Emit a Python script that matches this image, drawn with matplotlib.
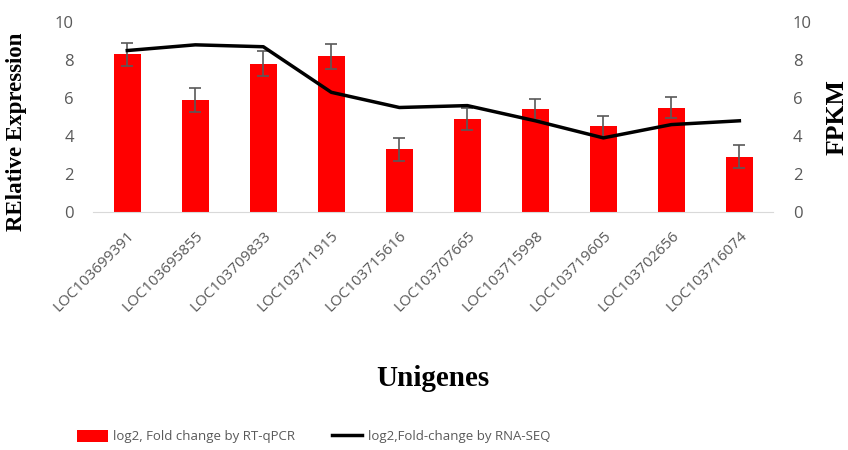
import numpy as np
import matplotlib.pyplot as plt
from matplotlib.patches import Patch
from matplotlib.lines import Line2D

# values
genes = ['LOC103699391', 'LOC103695855', 'LOC103709833', 'LOC103711915',
         'LOC103715616', 'LOC103707665', 'LOC103715998', 'LOC103719605',
         'LOC103702656', 'LOC103716074']
qpcr = [8.3, 5.9, 7.8, 8.2, 3.3, 4.9, 5.4, 4.5, 5.5, 2.9]
qpcr_err = [0.6, 0.65, 0.65, 0.65, 0.6, 0.6, 0.55, 0.55, 0.55, 0.6]
rnaseq = [8.5, 8.8, 8.7, 6.3, 5.5, 5.6, 4.8, 3.9, 4.6, 4.8]

grey = '#595959'
serif = 'Liberation Serif'
sans = ['Open Sans', 'DejaVu Sans']

fig = plt.figure(figsize=(8.48, 4.5), dpi=100)
ax = fig.add_axes([0.110, 0.529, 0.802, 0.422])
x = np.arange(len(genes))

ax.bar(x, qpcr, width=0.4, color='#ff0000', zorder=2)
ax.errorbar(x, qpcr, yerr=qpcr_err, fmt='none', ecolor=grey, elinewidth=1.2,
            capsize=4, capthick=1.2, zorder=3)
ax.set_ylim(0, 10)
ax.set_xlim(-0.5, len(genes) - 0.5)
ax.set_yticks(range(0, 11, 2))

ax2 = ax.twinx()
ax2.plot(x, rnaseq, color='black', lw=2.5, zorder=4)
ax2.set_ylim(0, 10)
ax2.set_yticks(range(0, 11, 2))

for a in (ax, ax2):
    for s in ('top', 'left', 'right', 'bottom'):
        a.spines[s].set_visible(False)
    a.tick_params(length=0, labelsize=12, labelcolor=grey, pad=14)
    for lab in a.get_yticklabels():
        lab.set_family(sans)
ax.spines['bottom'].set_visible(True)
ax.spines['bottom'].set_color('#d9d9d9')

ax.set_xticks(x)
ax.set_xticklabels(genes, rotation=45, ha='right', rotation_mode='anchor',
                   fontsize=11, color=grey, family=sans)
ax.tick_params(axis='x', pad=12)

ax.set_ylabel('RElative Expression', fontsize=16.5, fontweight='bold',
              family=serif)
ax.yaxis.set_label_coords(-0.098, 0.42)
ax2.set_ylabel('FPKM', fontsize=18.5, fontweight='bold', family=serif,
               labelpad=10)

fig.text(0.51, 0.16, 'Unigenes', ha='center', va='center', fontsize=21,
         fontweight='bold', family=serif)

handles = [Patch(facecolor='#ff0000', edgecolor='none'),
           Line2D([0], [0], color='black', lw=2.5)]
labels = ['log2, Fold change by RT-qPCR', 'log2,Fold-change by RNA-SEQ']
fig.legend(handles, labels, loc='center', bbox_to_anchor=(0.37, 0.03),
           ncol=2, frameon=False, columnspacing=2.8,
           handlelength=2.3, handleheight=1.0, handletextpad=0.4,
           prop={'family': sans, 'size': 9.5}, labelcolor=grey)

fig.savefig('out.png', dpi=100)
